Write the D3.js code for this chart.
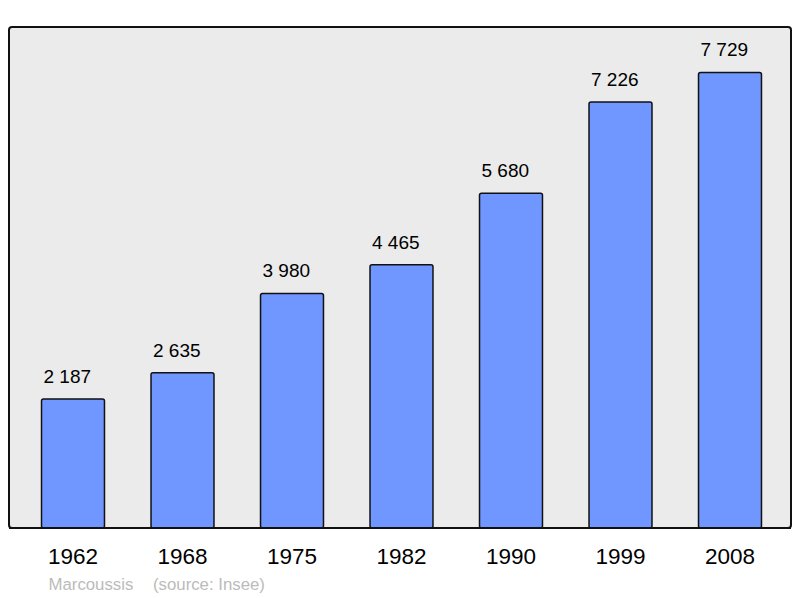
<!DOCTYPE html>
<html><head><meta charset="utf-8">
<script src="https://cdn.jsdelivr.net/npm/d3@7"></script>
<style>body{margin:0;background:#fff}svg{display:block}text{font-family:"Liberation Sans",Arial,sans-serif}</style>
</head><body><svg id="c" width="800" height="598"></svg>
<script>
const years = ["1962","1968","1975","1982","1990","1999","2008"];
const population = [2187,2635,3980,4465,5680,7226,7729];
const valueLabels = ["2 187","2 635","3 980","4 465","5 680","7 226","7 729"];
const commune = "Marcoussis";
const sourceText = "(source: Insee)";

const svg = d3.select("#c");
const x = d3.scaleBand().domain(years).range([18.25, 784.75]).paddingInner(0.425).paddingOuter(0.2125);
const y = d3.scaleLinear().domain([0, 8500]).range([528, 27]);

svg.append("rect").attr("x",9).attr("y",27).attr("width",782).attr("height",501)
  .attr("rx",3).attr("fill","#ebebeb").attr("stroke","#111").attr("stroke-width",2);

svg.selectAll("rect.bar").data(population).join("rect").attr("class","bar")
  .attr("x",(d,i)=>x(years[i])).attr("y",d=>y(d))
  .attr("width",x.bandwidth()).attr("height",d=>y(0)-y(d))
  .attr("rx",2).attr("fill","#7096ff").attr("stroke","#111").attr("stroke-width",1.5);

svg.append("line").attr("x1",9).attr("x2",791).attr("y1",528).attr("y2",528).attr("stroke","#111").attr("stroke-width",2);

svg.selectAll("text.val").data(population).join("text").attr("class","val")
  .attr("x",(d,i)=>x(years[i])+2).attr("y",d=>y(d)-16)
  .attr("text-anchor","start").attr("font-size",19).attr("fill","#000")
  .text((d,i)=>valueLabels[i]);

const xAxis = svg.append("g").attr("transform","translate(0,528)")
  .call(d3.axisBottom(x).tickSize(0).tickPadding(0));
xAxis.select(".domain").remove();
xAxis.selectAll("text").attr("font-size",22.5).attr("fill","#000").attr("y",36).attr("dy",0)
  .style("font-family","'Liberation Sans',Arial,sans-serif");

svg.append("text").attr("x",48.5).attr("y",590).attr("font-size",16.8).attr("fill","#bbbbbb").text(commune);
svg.append("text").attr("x",153).attr("y",590).attr("font-size",16.8).attr("fill","#bbbbbb").text(sourceText);
</script></body></html>
